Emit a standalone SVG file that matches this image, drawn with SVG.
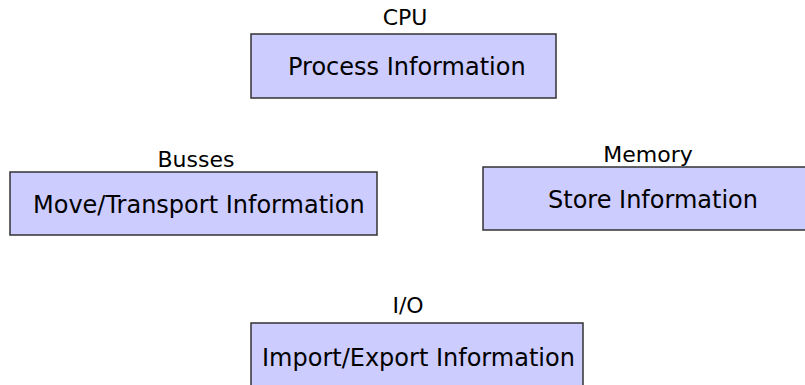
<svg xmlns="http://www.w3.org/2000/svg" width="805" height="385" viewBox="0 0 805 385">
<style>
  .box { fill: #ccccff; stroke: #333333; stroke-width: 1.5; }
  .t { font-family: "DejaVu Sans", "Liberation Sans", sans-serif; font-size: 24px; fill: #000000; }
  .lbl { font-family: "DejaVu Sans", "Liberation Sans", sans-serif; font-size: 22px; fill: #000000; text-anchor: middle; }
</style>
<rect width="805" height="385" fill="#ffffff"/>
<g id="connectors"></g>
<g id="cpu">
  <text class="lbl" x="405" y="25">CPU</text>
  <rect class="box" x="251" y="34" width="305" height="64"/>
  <text class="t" x="288" y="75">Process Information</text>
</g>
<g id="busses">
  <text class="lbl" x="196" y="167">Busses</text>
  <rect class="box" x="10" y="172" width="367" height="63"/>
  <text class="t" x="33" y="213">Move/Transport Information</text>
</g>
<g id="memory">
  <text class="lbl" x="648" y="162">Memory</text>
  <rect class="box" x="483" y="167" width="330" height="63"/>
  <text class="t" x="548" y="208">Store Information</text>
</g>
<g id="io">
  <text class="lbl" x="408" y="313">I/O</text>
  <rect class="box" x="251" y="323" width="332" height="70"/>
  <text class="t" x="262" y="366">Import/Export Information</text>
</g>
</svg>
